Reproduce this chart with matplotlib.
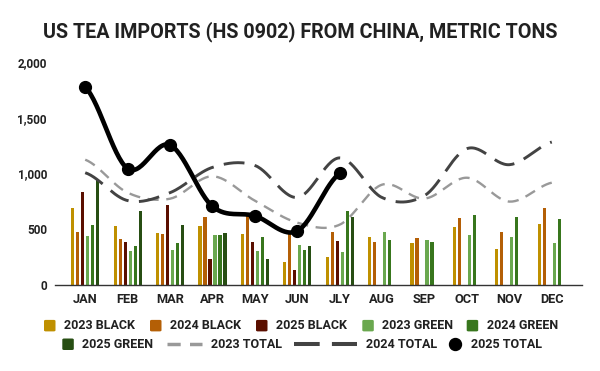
import numpy as np
import matplotlib
matplotlib.use("Agg")
import matplotlib.pyplot as plt
from matplotlib.patches import FancyBboxPatch
from matplotlib.lines import Line2D

# 数据（公吨），读自原图
months = ["JAN", "FEB", "MAR", "APR", "MAY", "JUN", "JLY", "AUG", "SEP", "OCT", "NOV", "DEC"]
black_2023 = [688, 526, 463, 526, 454, 203, 248, 428, 374, 517, 320, 544]
black_2024 = [472, 410, 454, 607, 640, 470, 472, 383, 419, 598, 472, 688]
black_2025 = [831, 383, 714, 230, 383, 132, 392]
green_2023 = [436, 302, 311, 445, 302, 356, 293, 472, 401, 445, 428, 374]
green_2024 = [535, 347, 374, 445, 428, 311, 661, 401, 383, 625, 607, 589]
green_2025 = [939, 661, 535, 463, 230, 347, 607]
total_2023 = [1124, 828, 774, 975, 756, 559, 541, 900, 775, 962, 748, 918]
total_2024 = [1007, 757, 828, 1055, 1072, 785, 1140, 784, 802, 1223, 1079, 1282]
total_2025 = [1775, 1044, 1255, 705, 620, 485, 1000]

bar_series = [
    ("2023 BLACK", black_2023, "#bf9000"),
    ("2024 BLACK", black_2024, "#b45f06"),
    ("2025 BLACK", black_2025, "#5b0f00"),
    ("2023 GREEN", green_2023, "#6aa84f"),
    ("2024 GREEN", green_2024, "#38761d"),
    ("2025 GREEN", green_2025, "#274e13"),
]

plt.rcParams["font.family"] = ["Roboto", "DejaVu Sans"]
plt.rcParams["font.weight"] = "bold"
plt.rcParams["lines.scale_dashes"] = False
TXT = "#212121"


def smooth(ys, n=30):
    # Catmull-Rom 平滑曲线，仅用于绘制
    y = np.asarray(ys, dtype=float)
    x = np.arange(len(y), dtype=float)
    m = np.zeros_like(y)
    m[1:-1] = (y[2:] - y[:-2]) / 2
    m[0] = (y[1] - y[0]) / 2
    m[-1] = (y[-1] - y[-2]) / 2
    xs, out = [], []
    t = np.linspace(0, 1, n, endpoint=False)
    for i in range(len(y) - 1):
        h00 = 2 * t**3 - 3 * t**2 + 1
        h10 = t**3 - 2 * t**2 + t
        h01 = -2 * t**3 + 3 * t**2
        h11 = t**3 - t**2
        out.append(h00 * y[i] + h10 * m[i] + h01 * y[i + 1] + h11 * m[i + 1])
        xs.append(x[i] + t)
    xs.append([x[-1]])
    out.append([y[-1]])
    return np.concatenate(xs), np.concatenate(out)


fig = plt.figure(figsize=(6, 3.71), dpi=100)
ax = fig.add_axes([55 / 600, 1 - 285 / 371, 527 / 600, 223 / 371])

step = 5 / 42.42
width = 3.2 / 42.42
for k, (label, vals, color) in enumerate(bar_series):
    xpos = np.arange(len(vals)) + (k - 2.5) * step
    ax.bar(xpos, vals, width=width, color=color, zorder=2, linewidth=0)

x23, y23 = smooth(total_2023)
ax.plot(x23, y23, color="#999999", lw=1.7, ls=(0, (8, 5.5)), zorder=3)
x24, y24 = smooth(total_2024)
ax.plot(x24, y24, color="#434343", lw=2.1, ls=(0, (15, 7.5)), zorder=3)
x25, y25 = smooth(total_2025)
ax.plot(x25, y25, color="black", lw=3.3, zorder=4, solid_capstyle="round")
ax.plot(np.arange(len(total_2025)), total_2025, "o", color="black", ms=8.5, zorder=5)

ax.set_xlim(-0.5 - 9 / 42.42, 11.5 + 9 / 42.42)
ax.set_ylim(0, 2000)
ax.set_yticks([0, 500, 1000, 1500, 2000])
ax.set_yticklabels([f"{v:,}" for v in [0, 500, 1000, 1500, 2000]])
ax.set_xticks(np.arange(12))
ax.set_xticklabels(months)
ax.tick_params(axis="y", length=0, pad=5.8, labelsize=8.5, labelcolor=TXT)
ax.tick_params(axis="x", length=0, pad=6, labelsize=9.2, labelcolor=TXT)
for s in ["top", "right", "left"]:
    ax.spines[s].set_visible(False)
ax.spines["bottom"].set_color("#333333")
ax.spines["bottom"].set_linewidth(1.0)
ax.spines["bottom"].set_zorder(6)

fig.text(0.5, 1 - 32 / 371, "US TEA IMPORTS (HS 0902) FROM CHINA, METRIC TONS",
         ha="center", va="center", fontsize=14.2, fontweight="bold", color=TXT)

# 图例（手动排版，两行居中）
def fx(px):
    return px / 600


def fy(py):
    return 1 - py / 371


row1, row2 = 325.7, 344.3
sq = [(44, 64.3, row1), (150, 170, row1), (256, 276, row1),
      (362.3, 382.3, row1), (466.7, 487, row1), (62.3, 82.3, row2)]
for (label, vals, color), (kx, tx, ry) in zip(bar_series, sq):
    fig.patches.append(FancyBboxPatch((fx(kx), fy(ry + 5.7)), 11.5 / 600, 11.5 / 371,
                                      boxstyle="round,pad=0,rounding_size=0.003",
                                      transform=fig.transFigure, color=color, lw=0))
    fig.text(fx(tx), fy(ry), label, ha="left", va="center", fontsize=9, color=TXT)

fig.lines.append(Line2D([fx(166.7), fx(202.3)], [fy(row2)] * 2, transform=fig.transFigure,
                        color="#999999", lw=2.5, ls=(0, (9.5, 6.7))))
fig.text(fx(210.7), fy(row2), "2023 TOTAL", ha="left", va="center", fontsize=9, color=TXT)
fig.lines.append(Line2D([fx(294.3), fx(357.3)], [fy(row2)] * 2, transform=fig.transFigure,
                        color="#434343", lw=2.9, ls=(0, (18.5, 8.8))))
fig.text(fx(366), fy(row2), "2024 TOTAL", ha="left", va="center", fontsize=9, color=TXT)
fig.lines.append(Line2D([fx(455.3)], [fy(row2)], transform=fig.transFigure,
                        marker="o", color="black", ms=8.6, lw=0))
fig.text(fx(470.7), fy(row2), "2025 TOTAL", ha="left", va="center", fontsize=9, color=TXT)

fig.savefig("out.png", dpi=100, facecolor="white")
